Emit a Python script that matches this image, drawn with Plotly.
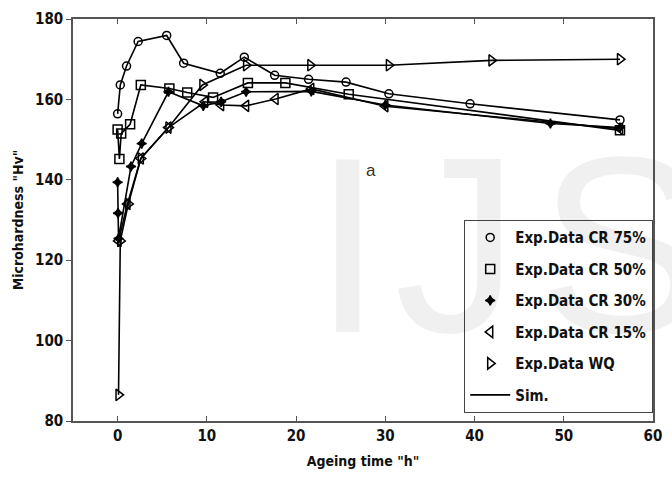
import plotly.graph_objects as go

# ---- data ----
cr75_x = [0, 0.3, 1.0, 2.3, 5.5, 7.4, 11.5, 14.2, 17.6, 21.4, 25.6, 30.4, 39.5, 56.3]
cr75_y = [156.4, 163.6, 168.3, 174.4, 175.9, 169.0, 166.5, 170.5, 166.0, 165.0, 164.3, 161.4, 158.9, 154.9]

cr50_x = [0, 0.2, 0.4, 1.4, 2.6, 5.8, 7.8, 10.7, 14.6, 18.8, 25.9, 56.3]
cr50_y = [152.5, 145.2, 151.5, 153.8, 163.6, 162.7, 161.7, 160.5, 164.1, 164.1, 161.3, 152.3]

cr30_x = [0, 0.05, 0.1, 1.5, 2.7, 5.7, 9.6, 11.6, 14.4, 21.7, 30.0, 48.5, 56.3]
cr30_y = [139.4, 131.7, 125.4, 143.3, 149.0, 161.9, 158.4, 159.4, 161.9, 162.0, 158.6, 154.0, 153.0]

cr15_x = [0.1, 1.1, 2.6, 5.7, 9.8, 11.6, 14.4, 17.7, 21.7, 30.0, 56.3]
cr15_y = [124.8, 134.0, 145.3, 153.0, 159.4, 158.6, 158.4, 160.1, 162.6, 158.3, 152.7]

wq_x = [0.1, 0.3, 1.2, 2.6, 5.7, 9.5, 14.4, 21.6, 30.4, 41.9, 56.3]
wq_y = [86.5, 124.8, 134.0, 145.3, 153.0, 163.6, 168.5, 168.5, 168.5, 169.7, 170.0]

names = ["Exp.Data CR 75%", "Exp.Data CR 50%", "Exp.Data CR 30%", "Exp.Data CR 15%", "Exp.Data WQ"]
symbols = ["circle-open", "square-open", "star-diamond", "triangle-left-open", "triangle-right-open"]
sizes = [8, 9, 7, 10, 10]
series = [(cr75_x, cr75_y), (cr50_x, cr50_y), (cr30_x, cr30_y), (cr15_x, cr15_y), (wq_x, wq_y)]

x_ticks = [0, 10, 20, 30, 40, 50, 60]
y_ticks = [80, 100, 120, 140, 160, 180]

cond = "Noto Sans ExtraCondensed, Noto Sans Condensed, DejaVu Sans Condensed, DejaVu Sans, sans-serif"

fig = go.Figure()

# simulation lines (drawn through each series)
for i, (xs, ys) in enumerate(series):
    fig.add_trace(go.Scatter(
        x=xs, y=ys, mode="lines", line=dict(color="black", width=1.6),
        name="Sim.", showlegend=False, hoverinfo="skip", legendgroup="sim"))

# experimental markers
for k, ((xs, ys), nm, sym, sz) in enumerate(zip(series, names, symbols, sizes)):
    fig.add_trace(go.Scatter(
        x=xs, y=ys, mode="markers", name=nm, legendgroup=f"g{k}",
        marker=dict(symbol=sym, size=sz, color="black",
                    line=dict(color="black", width=1.5))))

# legend-only entry for the simulation
fig.add_trace(go.Scatter(x=[None], y=[None], mode="lines", name="Sim.", legendgroup="simleg",
                         line=dict(color="black", width=1.6)))

fig.update_layout(
    width=672, height=481,
    margin=dict(l=73, r=10, t=16, b=60),
    paper_bgcolor="white", plot_bgcolor="white",
    showlegend=True,
    legend=dict(x=1, y=0.02, xanchor="right", yanchor="bottom",
                bgcolor="rgba(255,255,255,0)", bordercolor="#444", borderwidth=1.2,
                font=dict(family=cond, size=15, color="#111", weight="bold"),
                itemwidth=40, tracegroupgap=9),
)

# faint watermark letters (translucent so everything shows through)
wm = dict(family="Liberation Sans", size=250, color="rgba(0,0,0,0.06)")
for letter, px in [("I", 352), ("J", 462), ("S", 630)]:
    fig.add_annotation(x=(px - 73) / 589, y=(421.5 - 245) / 405, xref="paper", yref="paper",
                       text=letter, showarrow=False, font=wm, xanchor="center", yanchor="middle")

fig.add_annotation(x=28.4, y=142.2, xref="x", yref="y", text="a", showarrow=False,
                   font=dict(family="Liberation Sans", size=17, color="#3a3020"))

fig.update_xaxes(range=[-5, 60], tickvals=x_ticks, ticks="inside", ticklen=5,
                 showline=True, linecolor="#555", linewidth=1.5, mirror="ticks",
                 tickcolor="#555", showgrid=False, zeroline=False,
                 tickfont=dict(family=cond, size=15, color="#111", weight="bold"),
                 title=dict(text='Ageing time "h"',
                            font=dict(family=cond, size=14, color="#111", weight="bold"),
                            standoff=12))
fig.update_yaxes(range=[80, 180], tickvals=y_ticks, ticks="outside", ticklen=5,
                 showline=True, linecolor="#555", linewidth=1.5, mirror=True,
                 tickcolor="#555", showgrid=False, zeroline=False,
                 tickfont=dict(family=cond, size=15, color="#111", weight="bold"),
                 title=dict(text='Microhardness "Hv"',
                            font=dict(family=cond, size=14, color="#111", weight="bold"),
                            standoff=8))

fig.write_html("out.html")
